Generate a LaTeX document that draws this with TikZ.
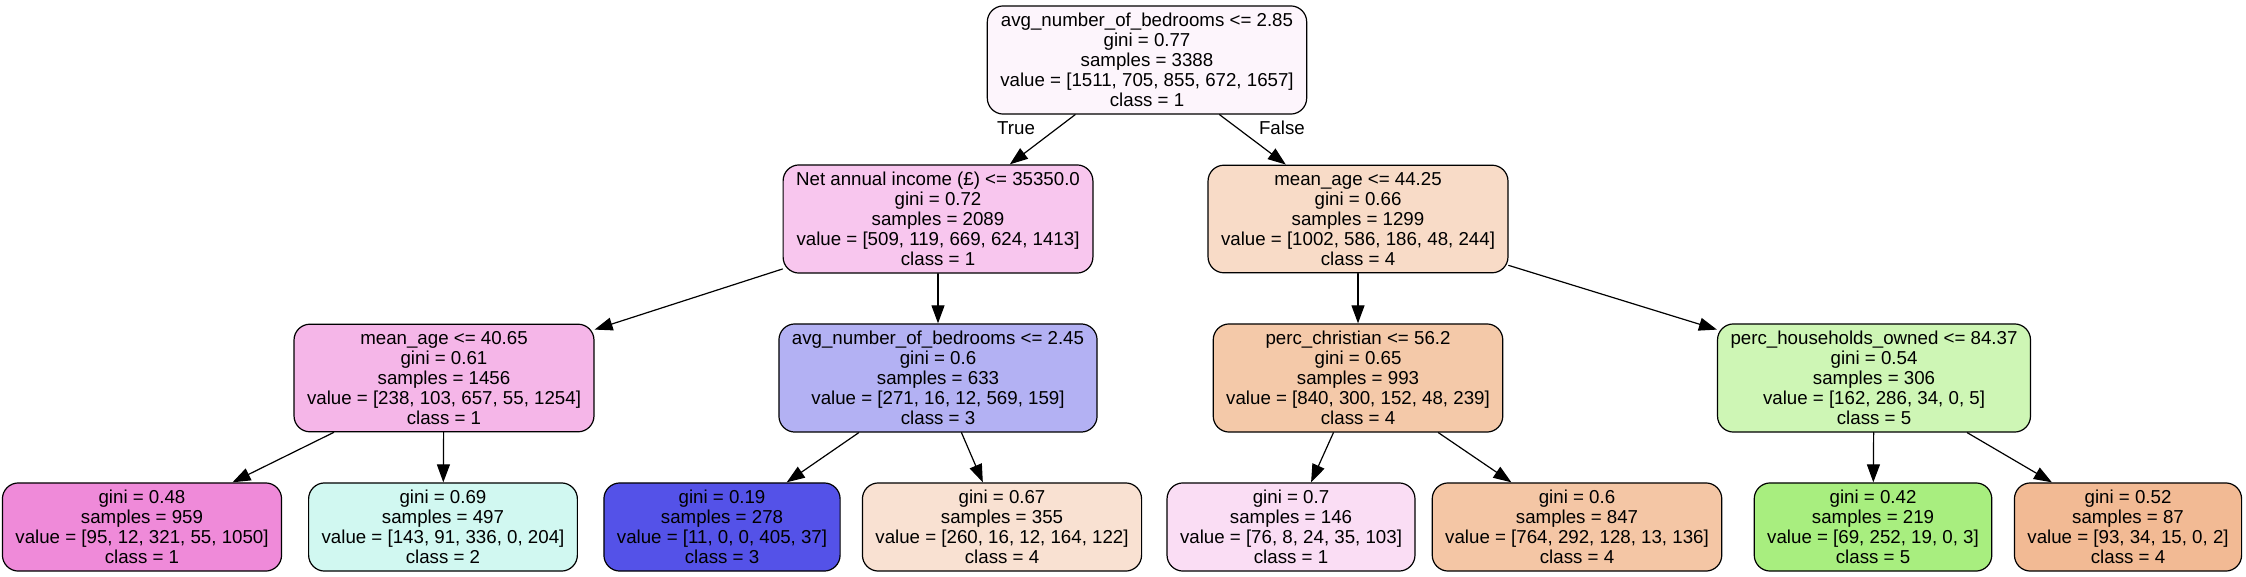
\documentclass[tikz,border=0pt]{standalone}
\usepackage{fontspec}
\setmainfont{Liberation Sans}
\usetikzlibrary{arrows.meta}
\definecolor{cRoot}{HTML}{FDF5FC}
\definecolor{cInc}{HTML}{F8C6EE}
\definecolor{cAgeHi}{HTML}{F8DBC7}
\definecolor{cAgeLo}{HTML}{F5B6E8}
\definecolor{cBedLo}{HTML}{B3B1F3}
\definecolor{cChr}{HTML}{F4C9A9}
\definecolor{cOwn}{HTML}{CEF6B5}
\definecolor{cLa}{HTML}{EF8AD9}
\definecolor{cLb}{HTML}{D1F8F1}
\definecolor{cLc}{HTML}{5452E8}
\definecolor{cLd}{HTML}{F9E1D2}
\definecolor{cLe}{HTML}{FADDF4}
\definecolor{cLf}{HTML}{F4C6A5}
\definecolor{cLg}{HTML}{A8EE7F}
\definecolor{cLh}{HTML}{F2BA94}
\begin{document}
\begin{tikzpicture}[x=0.5pt,y=-0.5pt,font=\fontsize{9.35pt}{10pt}\selectfont, line join=round, line cap=round,
  >={Triangle[length=9pt,width=6.5pt]},
  box/.style={draw=black, line width=0.6pt, rounded corners=8pt, align=center, inner xsep=6.5pt, inner ysep=3.6pt},
  lab/.style={inner sep=0pt}]
\def \ya{60};
\def \yb{219};
\def \yc{378};
\def \yd{527};
\useasboundingbox (0,0) rectangle (2246,577);
% root
\node[box, fill=cRoot] (root) at (1147,\ya) {avg\_number\_of\_bedrooms <= 2.85\\gini = 0.77\\samples = 3388\\value = [1511, 705, 855, 672, 1657]\\class = 1};
% first split
\node[box, fill=cInc] (inc) at (938,\yb) {Net annual income (£) <= 35350.0\\gini = 0.72\\samples = 2089\\value = [509, 119, 669, 624, 1413]\\class = 1};
\node[box, fill=cAgeHi] (agehi) at (1358,\yb) {mean\_age <= 44.25\\gini = 0.66\\samples = 1299\\value = [1002, 586, 186, 48, 244]\\class = 4};
% second split
\node[box, fill=cAgeLo] (agelo) at (444,\yc) {mean\_age <= 40.65\\gini = 0.61\\samples = 1456\\value = [238, 103, 657, 55, 1254]\\class = 1};
\node[box, fill=cBedLo] (bedlo) at (938,\yc) {avg\_number\_of\_bedrooms <= 2.45\\gini = 0.6\\samples = 633\\value = [271, 16, 12, 569, 159]\\class = 3};
\node[box, fill=cChr] (chr) at (1358,\yc) {perc\_christian <= 56.2\\gini = 0.65\\samples = 993\\value = [840, 300, 152, 48, 239]\\class = 4};
\node[box, fill=cOwn] (own) at (1874,\yc) {perc\_households\_owned <= 84.37\\gini = 0.54\\samples = 306\\value = [162, 286, 34, 0, 5]\\class = 5};
% leaves
\node[box, fill=cLa] (la) at (142,\yd) {gini = 0.48\\samples = 959\\value = [95, 12, 321, 55, 1050]\\class = 1};
\node[box, fill=cLb] (lb) at (443,\yd) {gini = 0.69\\samples = 497\\value = [143, 91, 336, 0, 204]\\class = 2};
\node[box, fill=cLc] (lc) at (722,\yd) {gini = 0.19\\samples = 278\\value = [11, 0, 0, 405, 37]\\class = 3};
\node[box, fill=cLd] (ld) at (1002,\yd) {gini = 0.67\\samples = 355\\value = [260, 16, 12, 164, 122]\\class = 4};
\node[box, fill=cLe] (le) at (1291,\yd) {gini = 0.7\\samples = 146\\value = [76, 8, 24, 35, 103]\\class = 1};
\node[box, fill=cLf] (lf) at (1577,\yd) {gini = 0.6\\samples = 847\\value = [764, 292, 128, 13, 136]\\class = 4};
\node[box, fill=cLg] (lg) at (1873,\yd) {gini = 0.42\\samples = 219\\value = [69, 252, 19, 0, 3]\\class = 5};
\node[box, fill=cLh] (lh) at (2128,\yd) {gini = 0.52\\samples = 87\\value = [93, 34, 15, 0, 2]\\class = 4};
% edges
\draw[->, line width=0.6pt] (root) -- node[lab, pos=0.27, left=11pt] {True} (inc);
\draw[->, line width=0.6pt] (root) -- node[lab, pos=0.27, right=10.5pt] {False} (agehi);
\foreach \a/\b in {inc/agelo, inc/bedlo, agehi/chr, agehi/own, agelo/la, agelo/lb, bedlo/lc, bedlo/ld, chr/le, chr/lf, own/lg, own/lh}{\draw[->, line width=0.6pt] (\a) -- (\b);}
\end{tikzpicture}
\end{document}
